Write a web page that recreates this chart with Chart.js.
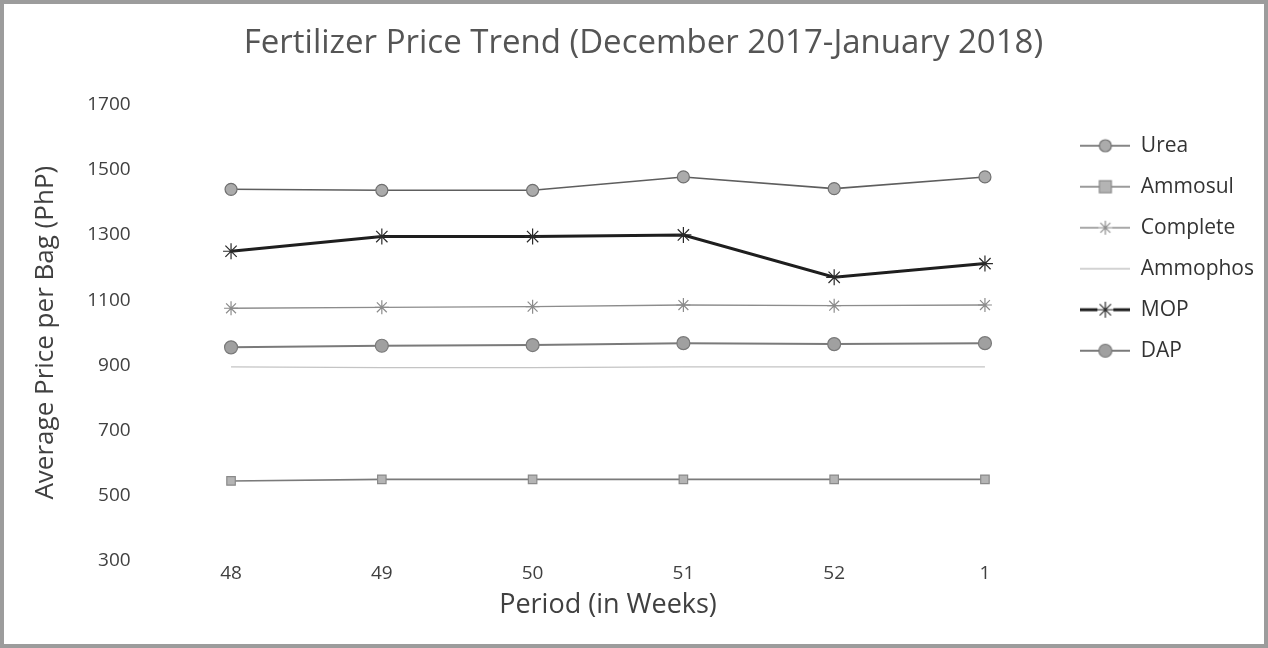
<!DOCTYPE html>
<html>
<head>
<meta charset="utf-8">
<script src="https://cdn.jsdelivr.net/npm/chart.js@4.4.1/dist/chart.umd.min.js"></script>
<style>
  html, body { margin: 0; padding: 0; background: #fff; }
  #wrap {
    position: absolute; left: 0; top: 0;
    width: 1268px; height: 648px;
    box-sizing: border-box;
    border: 4px solid #9c9c9c;
    background: #fff;
  }
  #myChart { display: block; }
</style>
</head>
<body>
<div id="wrap"><canvas id="myChart" width="1260" height="640"></canvas></div>
<script>
// data
const weeks = ['48', '49', '50', '51', '52', '1'];
const urea = [1440, 1437, 1437, 1478, 1442, 1478];
const ammosul = [545, 550, 550, 550, 550, 550];
const complete = [1075, 1078, 1080, 1085, 1083, 1085];
const ammophos = [895, 893, 893, 895, 895, 895];
const mop = [1250, 1295, 1295, 1300, 1170, 1212];
const dap = [955, 960, 962, 968, 965, 968];
const yTicks = [300, 500, 700, 900, 1100, 1300, 1500, 1700];

const fontName = "'Open Sans', 'Noto Sans', sans-serif";

// legend swatch: a short line with the marker in the middle
const makeSwatch = (lineColor, lineWidth, style, fill, stroke, r) => {
  const c = document.createElement('canvas');
  c.width = 50; c.height = 18;
  const g = c.getContext('2d');
  const cx = 25, cy = 9;
  g.strokeStyle = lineColor;
  g.lineWidth = lineWidth;
  g.beginPath(); g.moveTo(0, cy); g.lineTo(50, cy); g.stroke();
  g.fillStyle = fill; g.strokeStyle = stroke; g.lineWidth = 1.2;
  if (style === 'circle') {
    g.beginPath(); g.arc(cx, cy, r, 0, Math.PI * 2); g.fill(); g.stroke();
  } else if (style === 'rect') {
    g.fillRect(cx - r, cy - r, 2 * r, 2 * r); g.strokeRect(cx - r, cy - r, 2 * r, 2 * r);
  } else if (style === 'star') {
    g.fillStyle = '#fff';
    g.fillRect(cx - r, cy - r, 2 * r, 2 * r);
    g.beginPath();
    for (let i = 0; i < 4; i++) {
      const a = i * Math.PI / 4;
      g.moveTo(cx + Math.cos(a) * r, cy + Math.sin(a) * r);
      g.lineTo(cx - Math.cos(a) * r, cy - Math.sin(a) * r);
    }
    g.stroke();
  }
  return c;
};

const series = [
  { label: 'Urea', data: urea, color: '#5e5e5e', width: 1.6, style: 'circle', fill: '#ababab', stroke: '#707070', r: 6 },
  { label: 'Ammosul', data: ammosul, color: '#7a7a7a', width: 1.6, style: 'rect', fill: '#b4b4b4', stroke: '#8a8a8a', r: 6 },
  { label: 'Complete', data: complete, color: '#8c8c8c', width: 1.3, style: 'star', fill: '#fff', stroke: '#8c8c8c', r: 7 },
  { label: 'Ammophos', data: ammophos, color: '#c4c4c4', width: 1.3, style: false, fill: '#fff', stroke: '#c4c4c4', r: 0 },
  { label: 'MOP', data: mop, color: '#1e1e1e', width: 3, style: 'star', fill: '#fff', stroke: '#2a2a2a', r: 8 },
  { label: 'DAP', data: dap, color: '#7a7a7a', width: 2, style: 'circle', fill: '#a0a0a0', stroke: '#7a7a7a', r: 6.5 }
];

const datasets = series.map(s => ({
  label: s.label,
  data: s.data,
  borderColor: s.color,
  borderWidth: s.width,
  backgroundColor: s.fill,
  pointStyle: s.style || 'circle',
  pointRadius: s.style ? s.r : 0,
  pointBorderColor: s.stroke,
  pointBackgroundColor: s.fill,
  pointBorderWidth: 1.2,
  tension: 0,
  fill: false,
  swatch: makeSwatch(s.color, s.width, s.style, s.fill, s.stroke, s.r)
}));

const ctx = document.getElementById('myChart').getContext('2d');
const chart = new Chart(ctx, {
  type: 'line',
  data: { labels: weeks, datasets: datasets },
  options: {
    responsive: false,
    animation: false,
    layout: { padding: { left: 19, right: 0, top: 8, bottom: 22 } },
    plugins: {
      title: {
        display: true,
        text: 'Fertilizer Price Trend (December 2017-January 2018)',
        color: '#555',
        font: { family: fontName, size: 33, weight: 'normal' },
        padding: { top: 12, bottom: 41 }
      },
      legend: {
        position: 'right',
        align: 'start',
        title: {
          display: true,
          text: ' ',
          font: { family: fontName, size: 16 },
          padding: { top: 84, bottom: 0 }
        },
        labels: {
          usePointStyle: true,
          pointStyleWidth: 50,
          padding: 20,
          color: '#333',
          font: { family: fontName, size: 21 },
          generateLabels: (c) => c.data.datasets.map((ds, i) => ({
            text: ds.label,
            pointStyle: ds.swatch,
            fillStyle: '#fff',
            strokeStyle: '#fff',
            lineWidth: 0,
            hidden: false,
            datasetIndex: i,
            fontColor: '#333'
          }))
        }
      },
      tooltip: { enabled: false }
    },
    scales: {
      x: {
        offset: true,
        grid: { display: false, drawTicks: false },
        border: { display: false },
        ticks: { color: '#404040', font: { family: fontName, size: 19 }, padding: 1 },
        title: {
          display: true,
          text: 'Period (in Weeks)',
          color: '#404040',
          font: { family: fontName, size: 27 },
          padding: { top: 4, bottom: 0 }
        }
      },
      y: {
        min: 300,
        max: 1700,
        grid: { display: false, drawTicks: false },
        border: { display: false },
        afterBuildTicks: (axis) => { axis.ticks = yTicks.map(v => ({ value: v })); },
        ticks: {
          color: '#404040',
          font: { family: fontName, size: 19 },
          padding: 25,
          callback: (v) => String(v)
        },
        title: {
          display: true,
          text: 'Average Price per Bag (PhP)',
          color: '#404040',
          font: { family: fontName, size: 26 },
          padding: { top: 7, bottom: 1 }
        }
      }
    }
  }
});
</script>
</body>
</html>
